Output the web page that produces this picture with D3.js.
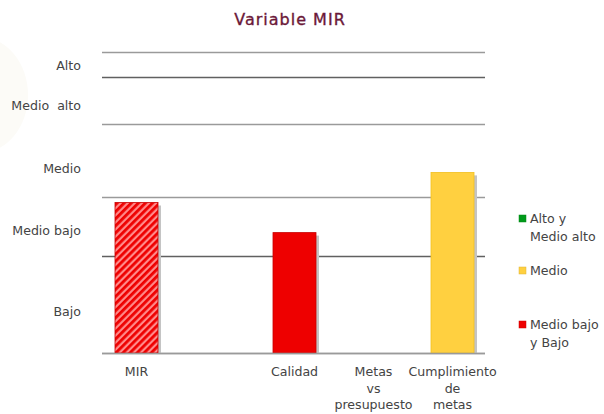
<!DOCTYPE html>
<meta charset="utf-8">
<html>
<head>
<title>Variable MIR</title>
<style>
  body { margin: 0; background: #fff; }
  text { font-family: "DejaVu Sans", sans-serif; fill: #444; }
  .title { fill: #6b1838; font-size: 16px; letter-spacing: 1px; stroke: #6b1838; stroke-width: 0.35px; }
</style>
<script src="https://d3js.org/d3.v7.min.js"></script>
</head>
<body>
<svg width="604" height="414"></svg>
<script>
  // Data
  var categories = ["MIR", "", "Calidad", "Metas vs presupuesto", "Cumplimiento de metas"];
  var values = [50, null, 40, 0, 60];
  var barColors = ["hatch", null, "#ee0000", "#ee0000", "#ffd040"];
  var levelLines = [0, 32.2, 51.8, 76.1, 91.7, 100];
  var levelLabels = ["Bajo", "Medio bajo", "Medio", "Medio  alto", "Alto"];
  var levelLabelPos = [13.5, 40.5, 61, 82, 95.5];
  var legendLabels = [["Alto y", "Medio alto"], ["Medio"], ["Medio bajo", "y Bajo"]];
  var legendColors = ["#009a1a", "#ffd040", "#ee0000"];

  var svg = d3.select("svg");
  var fs = "12.6px";

  // faint background shape
  svg.append("ellipse")
      .attr("cx", -20).attr("cy", 95).attr("rx", 48).attr("ry", 58)
      .attr("fill", "#fcfbf7");

  var defs = svg.append("defs");
  var pat = defs.append("pattern")
      .attr("id", "hatch")
      .attr("patternUnits", "userSpaceOnUse")
      .attr("width", 5).attr("height", 5)
      .attr("patternTransform", "rotate(45)");
  pat.append("rect").attr("width", 5).attr("height", 5).attr("fill", "#ff8a8a");
  pat.append("rect").attr("width", 2.8).attr("height", 5).attr("fill", "#ee0000");

  var x = d3.scaleBand().domain(categories).range([97, 492]);
  var y = d3.scaleLinear().domain([0, 100]).range([353, 52]);

  // Title
  svg.append("text")
      .attr("class", "title")
      .attr("x", 290).attr("y", 25)
      .attr("text-anchor", "middle")
      .text("Variable MIR");

  // Level lines
  svg.append("g").selectAll("line")
      .data(levelLines)
      .enter().append("line")
      .attr("x1", 102).attr("x2", 485)
      .attr("y1", function (d) { return Math.round(y(d)) + 0.5; })
      .attr("y2", function (d) { return Math.round(y(d)) + 0.5; })
      .attr("stroke", function (d, i) { return (i == 1 || i == 4) ? "#606060" : "#9a9a9a"; })
      .attr("stroke-width", 1.5);

  // Level labels
  svg.append("g").selectAll("text")
      .data(levelLabels)
      .enter().append("text")
      .attr("x", 81)
      .attr("y", function (d, i) { return y(levelLabelPos[i]) + 4; })
      .attr("text-anchor", "end")
      .attr("font-size", fs)
      .style("white-space", "pre")
      .text(function (d) { return d; });

  // Bars
  var bw = 43;
  var bars = categories.map(function (c, i) { return { c: c, v: values[i], col: barColors[i] }; })
      .filter(function (d) { return d.v; });
  var gb = svg.append("g");
  gb.selectAll("rect.shadow")
      .data(bars)
      .enter().append("rect")
      .attr("class", "shadow")
      .attr("x", function (d) { return x(d.c) + x.bandwidth() / 2 - bw / 2 + 3; })
      .attr("y", function (d) { return y(d.v) + 3; })
      .attr("width", bw)
      .attr("height", function (d) { return y(0) - y(d.v) - 3; })
      .attr("fill", "#c4c4c4");
  gb.selectAll("rect.bar")
      .data(bars)
      .enter().append("rect")
      .attr("class", "bar")
      .attr("x", function (d) { return x(d.c) + x.bandwidth() / 2 - bw / 2; })
      .attr("y", function (d) { return y(d.v); })
      .attr("width", bw)
      .attr("height", function (d) { return y(0) - y(d.v); })
      .attr("fill", function (d) { return d.col == "hatch" ? "url(#hatch)" : d.col; })
      .attr("stroke", function (d) { return d.col == "#ffd040" ? "#f2c020" : "#c80000"; })
      .attr("stroke-width", 0.8);

  // baseline over bars
  svg.append("line")
      .attr("x1", 102).attr("x2", 485)
      .attr("y1", Math.round(y(0)) + 0.5).attr("y2", Math.round(y(0)) + 0.5)
      .attr("stroke", "#9a9a9a").attr("stroke-width", 1.5);

  // Category labels
  var wraps = { "Metas vs presupuesto": ["Metas", "vs", "presupuesto"],
                "Cumplimiento de metas": ["Cumplimiento", "de", "metas"] };
  var gl = svg.append("g");
  categories.forEach(function (c) {
    if (!c) return;
    var lines = wraps[c] || [c];
    var t = gl.append("text")
        .attr("x", x(c) + x.bandwidth() / 2)
        .attr("y", 376)
        .attr("text-anchor", "middle")
        .attr("font-size", fs);
    lines.forEach(function (l, i) {
      t.append("tspan")
          .attr("x", x(c) + x.bandwidth() / 2)
          .attr("dy", i == 0 ? 0 : 16.5)
          .text(l);
    });
  });

  // Legend
  var legY = [219, 271, 325];
  var lg = svg.append("g");
  legendLabels.forEach(function (lines, i) {
    lg.append("rect")
        .attr("x", 519).attr("y", legY[i] - 4)
        .attr("width", 7).attr("height", 7)
        .attr("fill", legendColors[i])
        .attr("stroke", d3.color(legendColors[i]).darker(0.4))
        .attr("stroke-width", 0.5);
    var t = lg.append("text")
        .attr("x", 530).attr("y", legY[i] + 4)
        .attr("font-size", fs);
    lines.forEach(function (l, j) {
      t.append("tspan").attr("x", 530).attr("dy", j == 0 ? 0 : 18).text(l);
    });
  });
</script>
</body>
</html>
